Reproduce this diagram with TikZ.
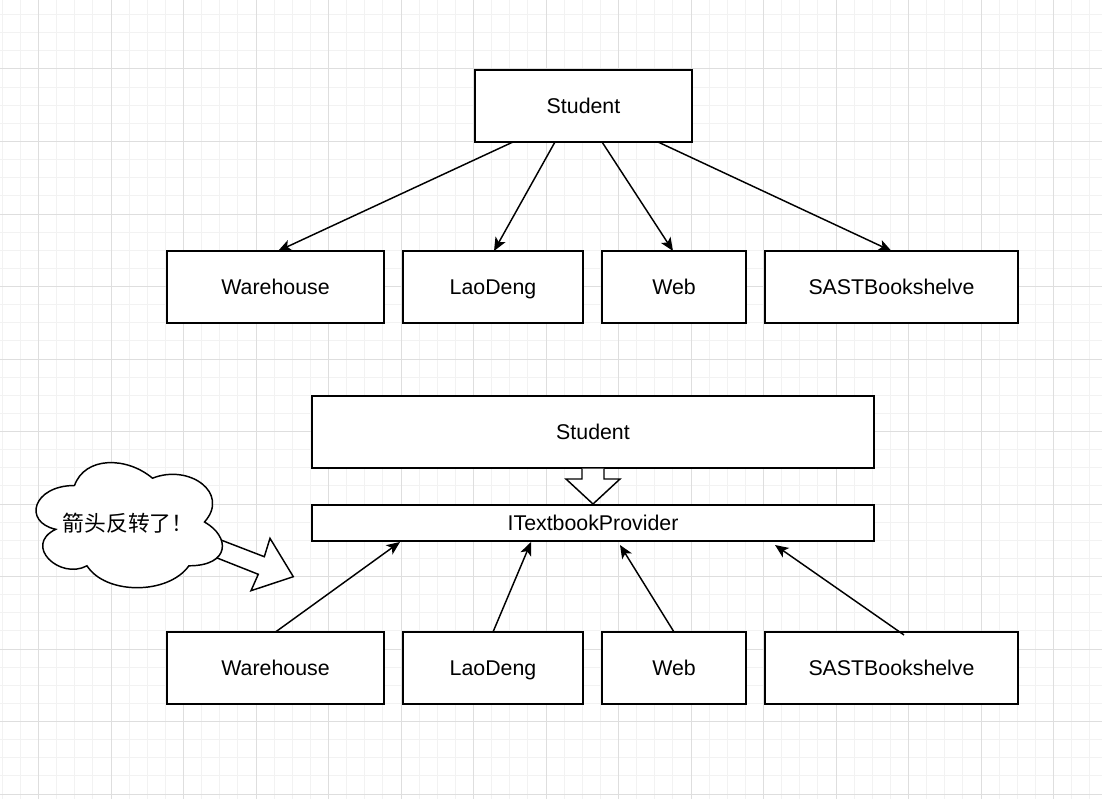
\documentclass[tikz,border=0pt]{standalone}
\usepackage{fontspec}
\setmainfont{Liberation Sans}
\newfontfamily\cjk{Noto Sans CJK SC}
\usetikzlibrary{arrows.meta,calc}
\tikzset{
  minorgrid/.style={draw=black!5, line width=0.75pt},
  majorgrid/.style={draw=black!13, line width=0.75pt},
  box/.style={draw=black, fill=white, line width=1.1pt, inner sep=0pt, outer sep=0pt,
    font=\fontsize{16}{19}\selectfont, text height=11.6pt, text depth=0pt},
  conn/.style={draw=black, line width=1.1pt, -{Stealth[length=10pt,width=8.5pt,inset=2.5pt]}},
  hollow/.style={draw=black, fill=white, line width=1.1pt, line join=miter},
}
\begin{document}
\begin{tikzpicture}[x=0.75pt,y=-0.75pt]
\useasboundingbox (0,0) rectangle (1102,799);
\fill[white] (0,0) rectangle (1102,799);
% grid
\foreach \i in {-2,...,58} \draw[minorgrid] ({38.5+18.125*\i},0) -- ++(0,799);
\foreach \i in {-3,...,41} \draw[minorgrid] (0,{69+18.125*\i}) -- ++(1102,0);
\foreach \i in {-1,...,15} \draw[majorgrid] ({38.5+72.5*\i},0) -- ++(0,799);
\foreach \i in {-1,...,10} \draw[majorgrid] (0,{69+72.5*\i}) -- ++(1102,0);

% top diagram
\node[box, minimum width=162.75pt, minimum height=54pt] (sT) at (583.5,106) {Student};
\node[box, minimum width=162.75pt, minimum height=54pt] (wT) at (275.5,287) {Warehouse};
\node[box, minimum width=135pt, minimum height=54pt] (lT) at (493,287) {LaoDeng};
\node[box, minimum width=108pt, minimum height=54pt] (webT) at (674,287) {Web};
\node[box, minimum width=189.75pt, minimum height=54pt] (bT) at (891.5,287) {SASTBookshelve};

\draw[conn] ([xshift=-52.9pt]sT.south) -- ([xshift=1.9pt]wT.north);
\draw[conn] ([xshift=-21.4pt]sT.south) -- ([xshift=0.75pt]lT.north);
\draw[conn] ([xshift=13.9pt]sT.south) -- ([xshift=-0.75pt]webT.north);
\draw[conn] ([xshift=55.9pt]sT.south) -- (bT.north);

% bottom diagram
\node[box, minimum width=421.5pt, minimum height=54pt] (sB) at (593,432) {Student};
\node[box, minimum width=421.5pt, minimum height=27pt] (itp) at (593,523) {ITextbookProvider};
\node[box, minimum width=162.75pt, minimum height=54pt] (wB) at (275.5,668) {Warehouse};
\node[box, minimum width=135pt, minimum height=54pt] (lB) at (493,668) {LaoDeng};
\node[box, minimum width=108pt, minimum height=54pt] (webB) at (674,668) {Web};
\node[box, minimum width=189.75pt, minimum height=54pt] (bB) at (891.5,668) {SASTBookshelve};

\draw[conn] (wB.north) -- ([xshift=-144.75pt,yshift=-0.75pt]itp.south);
\draw[conn] (lB.north) -- ([xshift=-46.5pt,yshift=-0.75pt]itp.south);
\draw[conn] (webB.north) -- ([xshift=20.25pt,yshift=-3pt]itp.south);
\draw[conn] ([xshift=9.4pt,yshift=-2.25pt]bB.north) -- ([xshift=136.5pt,yshift=-3pt]itp.south);

% hollow arrow Student -> ITextbookProvider
\path[hollow] ($(sB.south)+(-11,0.6)$) -- ($(sB.south)+(-11,11)$) -- ($(sB.south)+(-27,11)$)
  -- ($(sB.south)+(0,36)$) -- ($(sB.south)+(27,11)$) -- ($(sB.south)+(11,11)$) -- ($(sB.south)+(11,0.6)$);

% hollow arrow from cloud
\path[hollow] (208,535) -- (264.3,556.7) -- (270,538.3) -- (293.3,576.7) -- (251,590.7) -- (258.3,574.3) -- (202,552) -- cycle;

% cloud
\begin{scope}[shift={(22.5,449)}, xscale=208, yscale=146]
\path[hollow] (0.25,0.25) .. controls (0.05,0.25) and (0,0.5) .. (0.16,0.55)
  .. controls (0,0.66) and (0.18,0.9) .. (0.31,0.8)
  .. controls (0.4,1) and (0.7,1) .. (0.8,0.8)
  .. controls (1,0.8) and (1,0.6) .. (0.875,0.5)
  .. controls (1,0.3) and (0.8,0.1) .. (0.625,0.2)
  .. controls (0.5,0.05) and (0.3,0.05) .. (0.25,0.25) -- cycle;
\end{scope}
\node[font=\cjk\fontsize{16.3}{19}\selectfont, inner sep=0pt] (note) at (128,523) {箭头反转了！};
\end{tikzpicture}
\end{document}
